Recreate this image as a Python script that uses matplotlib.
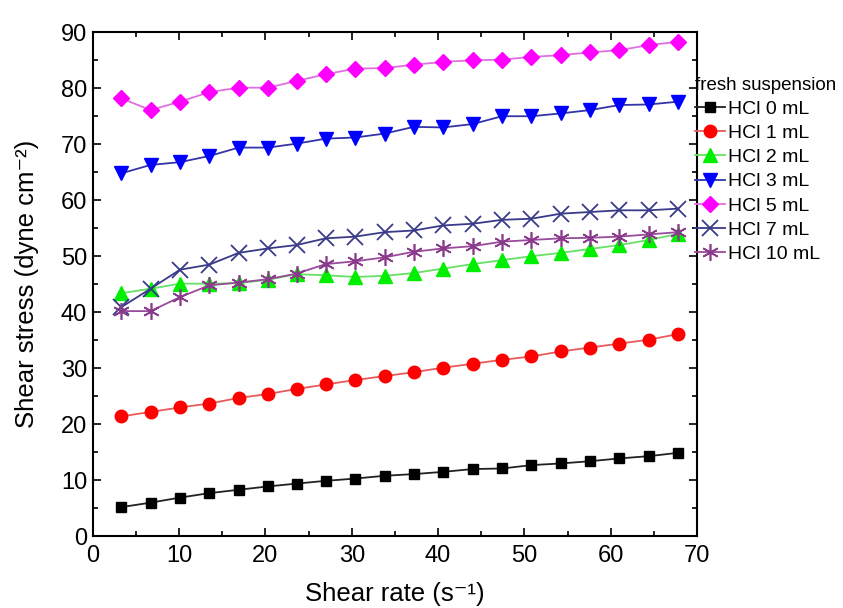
import matplotlib
matplotlib.use("Agg")
import matplotlib.pyplot as plt
from matplotlib.ticker import MultipleLocator

plt.rcParams['font.family'] = ['Liberation Sans', 'DejaVu Sans']

shear_rate = [3.3, 6.7, 10.1, 13.5, 16.9, 20.3, 23.6, 27.0, 30.4, 33.8,
              37.2, 40.6, 44.0, 47.4, 50.8, 54.2, 57.6, 61.0, 64.4, 67.8]

hcl_0 = [5.2, 6.0, 6.9, 7.7, 8.3, 8.9, 9.4, 9.9, 10.3, 10.8,
         11.1, 11.5, 12.0, 12.1, 12.7, 13.0, 13.4, 13.9, 14.3, 14.9]
hcl_1 = [21.4, 22.2, 23.0, 23.7, 24.7, 25.4, 26.3, 27.1, 27.9, 28.6,
         29.3, 30.1, 30.8, 31.5, 32.1, 33.0, 33.7, 34.4, 35.1, 36.1]
hcl_2 = [43.4, 44.2, 45.1, 45.1, 45.2, 45.8, 46.8, 46.6, 46.3, 46.5,
         47.0, 47.8, 48.6, 49.3, 50.0, 50.6, 51.3, 52.0, 52.9, 54.0]
hcl_3 = [64.8, 66.3, 66.8, 67.9, 69.4, 69.4, 70.1, 71.0, 71.2, 71.9,
         73.1, 73.0, 73.6, 75.0, 75.0, 75.5, 76.1, 77.0, 77.1, 77.6]
hcl_5 = [78.2, 76.1, 77.6, 79.3, 80.1, 80.1, 81.3, 82.5, 83.5, 83.6,
         84.2, 84.7, 85.0, 85.1, 85.6, 85.9, 86.4, 86.8, 87.7, 88.3]
hcl_7 = [40.9, 44.2, 47.6, 48.5, 50.6, 51.4, 52.0, 53.2, 53.5, 54.3,
         54.6, 55.5, 55.8, 56.5, 56.7, 57.6, 57.9, 58.2, 58.2, 58.5]
hcl_10 = [40.2, 40.2, 42.7, 44.8, 45.3, 45.9, 46.9, 48.6, 49.1, 49.8,
          50.8, 51.4, 51.8, 52.6, 52.9, 53.2, 53.3, 53.5, 53.9, 54.3]

labels = ['HCl 0 mL', 'HCl 1 mL', 'HCl 2 mL', 'HCl 3 mL', 'HCl 5 mL', 'HCl 7 mL', 'HCl 10 mL']
series = [hcl_0, hcl_1, hcl_2, hcl_3, hcl_5, hcl_7, hcl_10]

styles = [
    dict(marker='s', ms=7.5, color='#222222', mfc='black', mec='black'),
    dict(marker='o', ms=9, color='#e85a5a', mfc='#ff0000', mec='#ff0000'),
    dict(marker='^', ms=9.5, color='#66e066', mfc='#00ee00', mec='#00ee00'),
    dict(marker='v', ms=9.5, color='#3333aa', mfc='#0000ff', mec='#0000ff'),
    dict(marker='D', ms=8, color='#e070e0', mfc='#ff00ff', mec='#ff00ff'),
    dict(marker='x', ms=11, color='#3a3a8a', mfc='#3a3a8a', mec='#3a3a8a', mew=1.3),
    dict(marker=(6, 2, 0), ms=12, color='#9a4a9a', mfc='#800080', mec='#8a3a8a', mew=1.2),
]

fig = plt.figure(figsize=(8.43, 6.08), dpi=100)
ax = fig.add_axes([0.110, 0.118, 0.717, 0.829])

for ys, lab, st in zip(series, labels, styles):
    st = dict(st)
    marker = st.pop('marker')
    ms = st.pop('ms')
    ax.plot(shear_rate, ys, marker=marker, markersize=ms, lw=1.3, label=lab, **st)

ax.set_xlim(0, 70)
ax.set_ylim(0, 90)
ax.xaxis.set_major_locator(MultipleLocator(10))
ax.xaxis.set_minor_locator(MultipleLocator(5))
ax.yaxis.set_major_locator(MultipleLocator(10))
ax.yaxis.set_minor_locator(MultipleLocator(5))
ax.tick_params(which='both', direction='in', top=True, right=True, width=1.2)
ax.tick_params(which='major', length=6, labelsize=17, pad=4)
ax.tick_params(axis='x', which='major', pad=6)
ax.tick_params(which='minor', length=3.5)
for sp in ax.spines.values():
    sp.set_linewidth(1.5)

ax.set_xlabel('Shear rate (s\u207b\u00b9)', fontsize=18.5, labelpad=11)
ax.set_ylabel('Shear stress (dyne cm\u207b\u00b2)', fontsize=18.5, labelpad=16)

leg = ax.legend(loc='upper left', bbox_to_anchor=(0.997, 0.912), frameon=False,
                title='fresh suspension', fontsize=14, title_fontsize=13.5,
                handlelength=1.5, handletextpad=0.2, labelspacing=0.34,
                borderaxespad=0.0, borderpad=0.0, alignment='left')

fig.savefig('out.png', dpi=100)
